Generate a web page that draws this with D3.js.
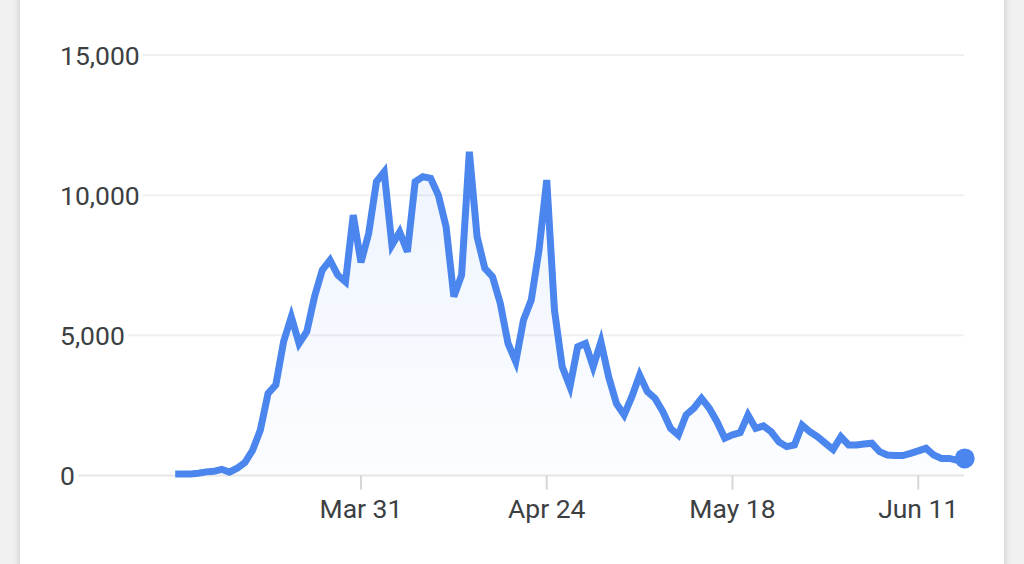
<!DOCTYPE html>
<html>
<head>
<meta charset="utf-8">
<script src="https://cdn.jsdelivr.net/npm/d3@7"></script>
<style>
  html, body { margin: 0; padding: 0; background: #f1f1f1; }
  body { width: 1024px; height: 564px; overflow: hidden; position: relative; }
  .card { position: absolute; left: 20px; top: -10px; width: 984px; height: 600px;
    background: #fff; box-shadow: 0 0 8px rgba(0,0,0,0.18); }
  svg { position: absolute; left: 0; top: 0; }
  text { font-family: Roboto, "Noto Sans", sans-serif; fill: #3c4043; }
</style>
</head>
<body>
<div class="card"></div>
<script>
// daily new cases, Mar 7 .. Jun 17
var startDate = new Date(2020, 2, 7);
var cases = [
  50, 50, 50, 80, 130, 150, 220, 120, 260, 460,
  900, 1620, 2930, 3230, 4770, 5660, 4710, 5130, 6380, 7330,
  7680, 7150, 6910, 9290, 7600, 8640, 10480, 10830, 8220, 8690,
  7980, 10480, 10660, 10600, 10000, 8870, 6380, 7150, 11550, 8520,
  7390, 7090, 6140, 4710, 4060, 5550, 6260, 8040, 10540, 5900,
  3880, 3170, 4590, 4710, 3880, 4770, 3520, 2570, 2160, 2810,
  3580, 2990, 2750, 2280, 1680, 1440, 2160, 2400, 2750, 2400,
  1920, 1330, 1450, 1530, 2160, 1680, 1770, 1560, 1200, 1030,
  1090, 1800, 1560, 1380, 1150, 930, 1380, 1090, 1090, 1120,
  1150, 850, 730, 710, 710, 790, 880, 970, 730, 610,
  610, 550, 610
];
var yTicks = [0, 5000, 10000, 15000];
var xTickDates = [new Date(2020, 2, 31), new Date(2020, 3, 24), new Date(2020, 4, 18), new Date(2020, 5, 11)];

var data = cases.map(function(v, i) {
  return { date: d3.timeDay.offset(startDate, i), value: v };
});

var width = 1024, height = 564;
var svg = d3.select('body').append('svg')
  .attr('width', width)
  .attr('height', height);

var x = d3.scaleTime()
  .domain([data[0].date, data[data.length - 1].date])
  .range([175.2, 964.7]);

var y = d3.scaleLinear()
  .domain([0, 15000])
  .range([475.5, 55]);

var defs = svg.append('defs');
var grad = defs.append('linearGradient')
  .attr('id', 'areaFill')
  .attr('x1', 0).attr('y1', 0).attr('x2', 0).attr('y2', 1);
grad.append('stop').attr('offset', '0%').attr('stop-color', '#4285f4').attr('stop-opacity', 0.09);
grad.append('stop').attr('offset', '100%').attr('stop-color', '#4285f4').attr('stop-opacity', 0.02);

// y labels + gridlines starting after the label
var yAxis = svg.append('g');
yTicks.forEach(function(t) {
  var label = yAxis.append('text')
    .attr('x', 60)
    .attr('y', y(t))
    .attr('dy', '0.36em')
    .style('font-size', '26.5px')
    .text(d3.format(',')(t));
  var end = 60 + label.node().getComputedTextLength() + 3;
  yAxis.append('line')
    .attr('x1', end).attr('x2', 964)
    .attr('y1', y(t)).attr('y2', y(t))
    .attr('stroke', t === 0 ? '#e6e6e6' : '#f0f0f0')
    .attr('stroke-width', 2);
});

// x ticks
var xAxis = svg.append('g');
xTickDates.forEach(function(d) {
  xAxis.append('line')
    .attr('x1', x(d)).attr('x2', x(d))
    .attr('y1', y(0)).attr('y2', y(0) + 14)
    .attr('stroke', '#d6d6d6')
    .attr('stroke-width', 2);
  xAxis.append('text')
    .attr('x', x(d))
    .attr('y', 518)
    .attr('text-anchor', 'middle')
    .style('font-size', '26.5px')
    .text(d3.timeFormat('%b %-d')(d));
});

var area = d3.area()
  .x(function(d) { return x(d.date); })
  .y0(y(0))
  .y1(function(d) { return y(d.value); });

var line = d3.line()
  .x(function(d) { return x(d.date); })
  .y(function(d) { return y(d.value); });

svg.append('path')
  .datum(data)
  .attr('d', area)
  .attr('fill', 'url(#areaFill)');

svg.append('path')
  .datum(data)
  .attr('d', line)
  .attr('fill', 'none')
  .attr('stroke', '#4a86ed')
  .attr('stroke-width', 7);

var last = data[data.length - 1];
svg.append('circle')
  .attr('cx', x(last.date))
  .attr('cy', y(last.value))
  .attr('r', 10)
  .attr('fill', '#4a86ed');
</script>
</body>
</html>
